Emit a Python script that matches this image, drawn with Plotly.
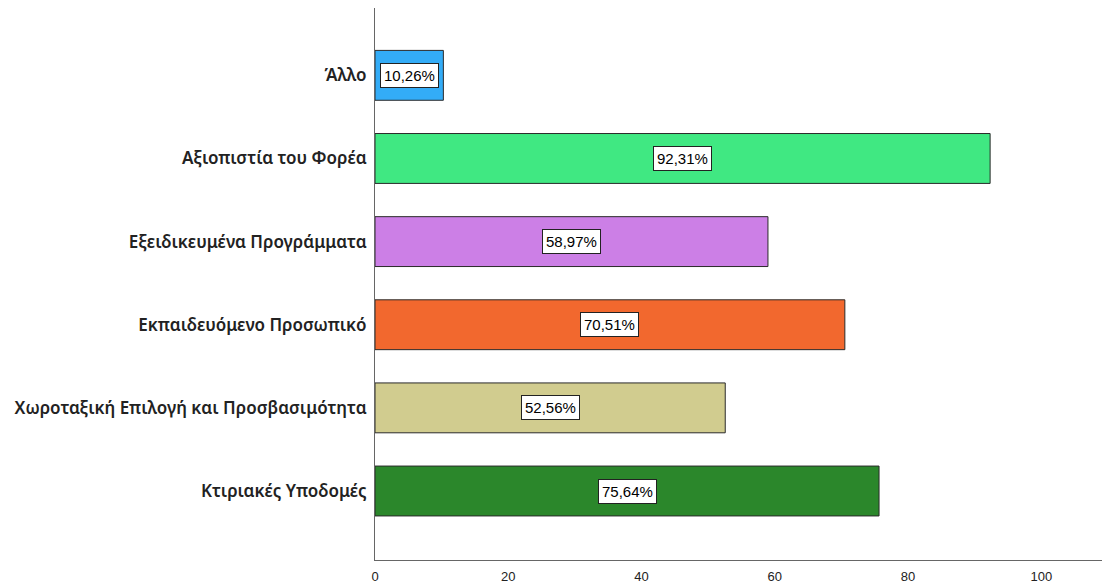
"""Horizontal bar chart of reasons (percentages)."""

import plotly.graph_objects as go

categories = [
    "Κτιριακές Υποδομές",
    "Χωροταξική Επιλογή και Προσβασιμότητα",
    "Εκπαιδευόμενο Προσωπικό",
    "Εξειδικευμένα Προγράμματα",
    "Αξιοπιστία του Φορέα",
    "Άλλο",
]
values = [75.64, 52.56, 70.51, 58.97, 92.31, 10.26]
colors = ["#2b872b", "#d1cc8f", "#f2682e", "#cc7fe6", "#40e882", "#33acf7"]
x_ticks = [0, 20, 40, 60, 80, 100]

fig = go.Figure()
fig.add_bar(
    x=values,
    y=categories,
    orientation="h",
    width=0.6,
    marker={"color": colors, "line": {"color": "#2a2a2a", "width": 1}},
    hoverinfo="skip",
)

for cat, val in zip(categories, values):
    fig.add_annotation(
        x=val / 2,
        y=cat,
        text=f"{val:.2f}".replace(".", ",") + "%",
        showarrow=False,
        bgcolor="white",
        bordercolor="#222222",
        borderwidth=1,
        borderpad=3,
        font={"family": "Liberation Sans, Arial", "size": 15, "color": "black"},
    )

# the page body has an 8px margin, so the figure is sized to fit the window
fig.update_layout(
    width=1102,
    height=577,
    margin={"l": 367, "r": 0, "t": 0, "b": 25},
    plot_bgcolor="white",
    paper_bgcolor="white",
    showlegend=False,
)
fig.update_xaxes(
    range=[0, 110.3],
    tickvals=x_ticks,
    showgrid=False,
    zeroline=False,
    showline=True,
    linecolor="#666666",
    linewidth=1,
    ticks="outside",
    ticklen=4,
    tickcolor="white",
    tickfont={"family": "Liberation Sans, Arial", "size": 13, "color": "#222222"},
)
fig.update_yaxes(
    range=[-0.83, 5.81],
    showgrid=False,
    zeroline=False,
    showline=True,
    linecolor="#666666",
    linewidth=1,
    ticks="outside",
    ticklen=4,
    tickcolor="white",
    tickfont={"family": "Noto Sans", "size": 17, "color": "#222222", "weight": 600},
)

fig.write_html("out.html")
